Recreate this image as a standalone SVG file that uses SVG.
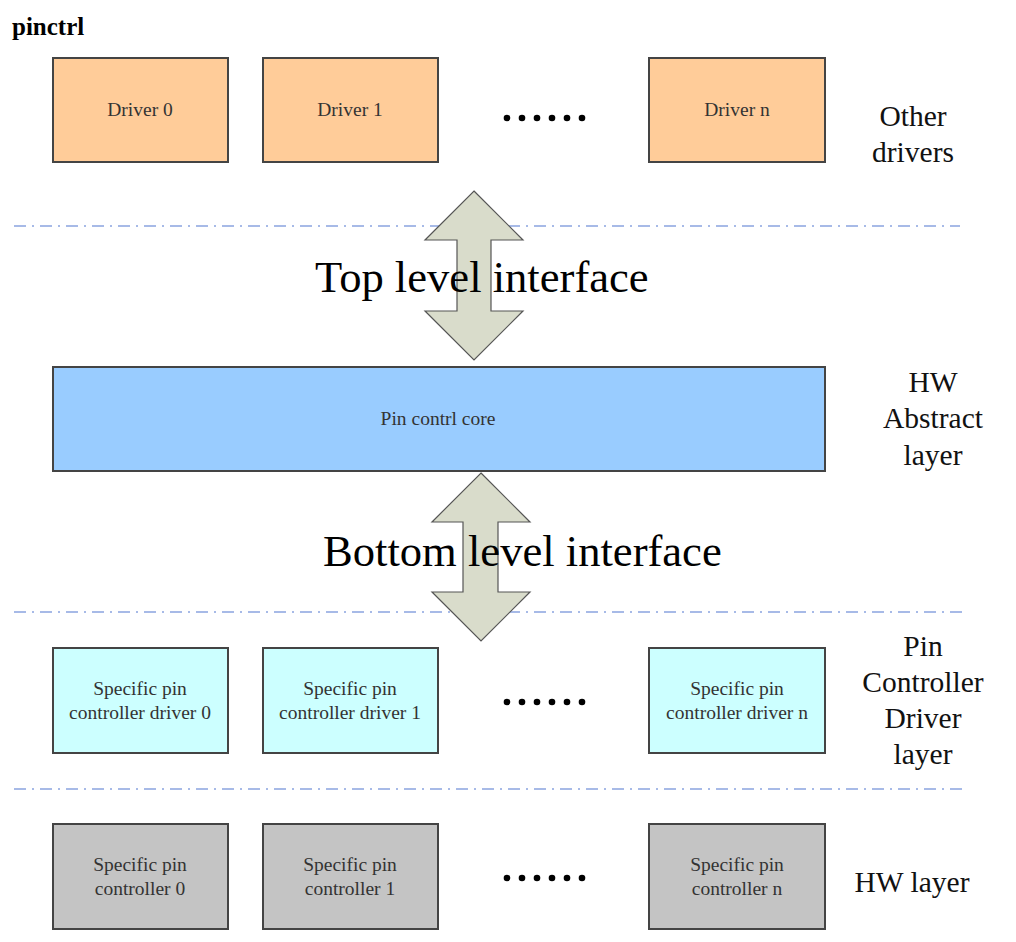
<svg xmlns="http://www.w3.org/2000/svg" width="1016" height="942" viewBox="0 0 1016 942">
<style>
.box{stroke:#444;stroke-width:2}
.drv{fill:#ffcc99}
.core{fill:#99ccff}
.pcd{fill:#ccffff}
.hw{fill:#c4c4c4}
.bt{font-family:"Liberation Serif",serif;font-size:19.5px;fill:#333;text-anchor:middle}
.lbl{font-family:"Liberation Serif",serif;font-size:29.5px;fill:#111;text-anchor:middle}
.big{font-family:"Liberation Serif",serif;font-size:44.6px;fill:#000}
.sep{stroke:#8aa4e0;stroke-width:1.5;stroke-dasharray:12 6 2 6;fill:none}
.arr{fill:#d9dccb;stroke:#555;stroke-width:1.2}
.dots{fill:#000}
</style>
<rect width="1016" height="942" fill="#fff"/>
<text x="12" y="35" font-family="Liberation Serif,serif" font-size="25" font-weight="bold" fill="#000">pinctrl</text>
<g id="separators">
<line class="sep" x1="14" y1="226" x2="960" y2="226"/>
<line class="sep" x1="14" y1="612" x2="966" y2="612"/>
<line class="sep" x1="14" y1="789" x2="966" y2="789"/>
</g>
<g id="connectors">
<polygon class="arr" points="474,191 523,240 491,240 491,311 523,311 474,360 425,311 457,311 457,240 425,240"/>
<polygon class="arr" points="481,473 530,522 498,522 498,592 530,592 481,641 432,592 463,592 463,522 432,522"/>
</g>
<text class="big" x="315" y="292">Top level interface</text>
<text class="big" x="323" y="566">Bottom level interface</text>
<g id="driver0"><rect class="box drv" x="53" y="58" width="175" height="104"/><text class="bt" x="140" y="116">Driver 0</text></g>
<g id="driver1"><rect class="box drv" x="263" y="58" width="175" height="104"/><text class="bt" x="350" y="116">Driver 1</text></g>
<g id="drivern"><rect class="box drv" x="649" y="58" width="176" height="104"/><text class="bt" x="737" y="116">Driver n</text></g>
<g id="dots1" class="dots"><circle cx="507" cy="118" r="3.3"/><circle cx="522" cy="118" r="3.3"/><circle cx="537" cy="118" r="3.3"/><circle cx="552" cy="118" r="3.3"/><circle cx="567" cy="118" r="3.3"/><circle cx="582" cy="118" r="3.3"/></g>
<g id="core"><rect class="box core" x="53" y="367" width="772" height="104"/><text class="bt" x="438" y="425">Pin contrl core</text></g>
<g id="pcd0"><rect class="box pcd" x="53" y="648" width="175" height="105"/><text class="bt" x="140" y="695">Specific pin</text><text class="bt" x="140" y="719">controller driver 0</text></g>
<g id="pcd1"><rect class="box pcd" x="263" y="648" width="175" height="105"/><text class="bt" x="350" y="695">Specific pin</text><text class="bt" x="350" y="719">controller driver 1</text></g>
<g id="pcdn"><rect class="box pcd" x="649" y="648" width="176" height="105"/><text class="bt" x="737" y="695">Specific pin</text><text class="bt" x="737" y="719">controller driver n</text></g>
<g id="dots2" class="dots"><circle cx="507" cy="702" r="3.3"/><circle cx="522" cy="702" r="3.3"/><circle cx="537" cy="702" r="3.3"/><circle cx="552" cy="702" r="3.3"/><circle cx="567" cy="702" r="3.3"/><circle cx="582" cy="702" r="3.3"/></g>
<g id="hw0"><rect class="box hw" x="53" y="824" width="175" height="105"/><text class="bt" x="140" y="871">Specific pin</text><text class="bt" x="140" y="895">controller 0</text></g>
<g id="hw1"><rect class="box hw" x="263" y="824" width="175" height="105"/><text class="bt" x="350" y="871">Specific pin</text><text class="bt" x="350" y="895">controller 1</text></g>
<g id="hwn"><rect class="box hw" x="649" y="824" width="176" height="105"/><text class="bt" x="737" y="871">Specific pin</text><text class="bt" x="737" y="895">controller n</text></g>
<g id="dots3" class="dots"><circle cx="507" cy="878" r="3.3"/><circle cx="522" cy="878" r="3.3"/><circle cx="537" cy="878" r="3.3"/><circle cx="552" cy="878" r="3.3"/><circle cx="567" cy="878" r="3.3"/><circle cx="582" cy="878" r="3.3"/></g>
<g id="labels">
<text class="lbl" x="913" y="126">Other</text><text class="lbl" x="913" y="162">drivers</text>
<text class="lbl" x="933" y="392">HW</text><text class="lbl" x="933" y="428">Abstract</text><text class="lbl" x="933" y="465">layer</text>
<text class="lbl" x="923" y="656">Pin</text><text class="lbl" x="923" y="692">Controller</text><text class="lbl" x="923" y="728">Driver</text><text class="lbl" x="923" y="764">layer</text>
<text class="lbl" x="912" y="892">HW layer</text>
</g>
</svg>
